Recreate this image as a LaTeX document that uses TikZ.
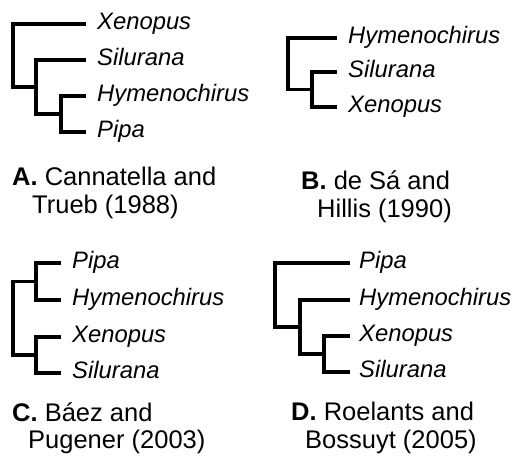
\documentclass[tikz,border=0pt]{standalone}
\usepackage{fontspec}
\setmainfont{Liberation Sans}
\begin{document}
\begin{tikzpicture}[x=1pt,y=-1pt,
  br/.style={line width=3.2pt},
  sp/.style={anchor=base west, inner sep=0pt, font=\fontsize{23.8}{28}\selectfont\itshape},
  capt/.style={anchor=base west, inner sep=0pt, font=\fontsize{25.5}{29}\selectfont}]
\useasboundingbox (0,0) rectangle (518,455);
% ---------- Panel A ----------
\coordinate (aXt) at (86,24);
\coordinate (aSt) at (86,60);
\coordinate (aHt) at (86,96);
\coordinate (aPt) at (86,132);
\coordinate (aN1) at (61,114);
\coordinate (aN2) at (36,87);
\coordinate (aR) at (13,55);
\node[sp] (aX) at (97,29) {Xenopus};
\node[sp] (aS) at (97,65) {Silurana};
\node[sp] (aH) at (97,101) {Hymenochirus};
\node[sp] (aP) at (97,137) {Pipa};
\draw[br] (aR) |- (aXt);
\draw[br] (aR) |- (aN2);
\draw[br] (aN2) |- (aSt);
\draw[br] (aN2) |- (aN1);
\draw[br] (aN1) |- (aHt);
\draw[br] (aN1) |- (aPt);
\node[capt] (capA1) at (12,185) {\textbf{A.} Cannatella and};
\node[capt] (capA2) at (32,213) {Trueb (1988)};
% ---------- Panel B ----------
\coordinate (bHt) at (337,38);
\coordinate (bSt) at (337,72);
\coordinate (bXt) at (337,107);
\coordinate (bN1) at (312,89.5);
\coordinate (bR) at (288,64);
\node[sp] (bH) at (348,43) {Hymenochirus};
\node[sp] (bS) at (348,77) {Silurana};
\node[sp] (bX) at (348,112) {Xenopus};
\draw[br] (bR) |- (bHt);
\draw[br] (bR) |- (bN1);
\draw[br] (bN1) |- (bSt);
\draw[br] (bN1) |- (bXt);
\node[capt] (capB1) at (301,189) {\textbf{B.} de Sá and};
\node[capt] (capB2) at (317,217) {Hillis (1990)};
% ---------- Panel C ----------
\coordinate (cPt) at (61,263);
\coordinate (cHt) at (61,300);
\coordinate (cXt) at (61,337);
\coordinate (cSt) at (61,373);
\coordinate (cN1) at (36,281.5);
\coordinate (cN2) at (36,355);
\coordinate (cR) at (13,318);
\node[sp] (cP) at (72,268) {Pipa};
\node[sp] (cH) at (72,305) {Hymenochirus};
\node[sp] (cX) at (72,342) {Xenopus};
\node[sp] (cS) at (72,378) {Silurana};
\draw[br] (cR) |- (cN1);
\draw[br] (cR) |- (cN2);
\draw[br] (cN1) |- (cPt);
\draw[br] (cN1) |- (cHt);
\draw[br] (cN2) |- (cXt);
\draw[br] (cN2) |- (cSt);
\node[capt] (capC1) at (12,421) {\textbf{C.} Báez and};
\node[capt] (capC2) at (28,448) {Pugener (2003)};
% ---------- Panel D ----------
\coordinate (dPt) at (350,263);
\coordinate (dHt) at (350,300);
\coordinate (dXt) at (350,336);
\coordinate (dSt) at (350,372);
\coordinate (dN1) at (324,354);
\coordinate (dN2) at (300,327);
\coordinate (dR) at (275,295);
\node[sp] (dP) at (359,268) {Pipa};
\node[sp] (dH) at (359,305) {Hymenochirus};
\node[sp] (dX) at (359,341) {Xenopus};
\node[sp] (dS) at (359,377) {Silurana};
\draw[br] (dR) |- (dPt);
\draw[br] (dR) |- (dN2);
\draw[br] (dN2) |- (dHt);
\draw[br] (dN2) |- (dN1);
\draw[br] (dN1) |- (dXt);
\draw[br] (dN1) |- (dSt);
\node[capt] (capD1) at (291,420) {\textbf{D.} Roelants and};
\node[capt] (capD2) at (305,448) {Bossuyt (2005)};
\end{tikzpicture}
\end{document}
